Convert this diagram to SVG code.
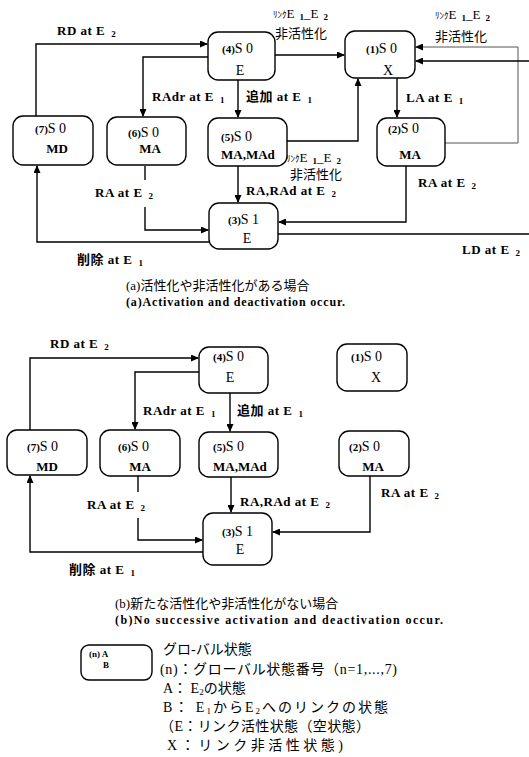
<svg xmlns="http://www.w3.org/2000/svg" width="529" height="757" viewBox="0 0 529 757">
<style>
text{font-family:"Liberation Serif","Noto Sans CJK JP",serif;fill:#000}
.box{fill:#fff;stroke:#000;stroke-width:1.4}
.num{font-size:11px;font-weight:bold}
.s{font-size:14px}
.b2{font-size:13px;font-weight:bold}
.r2{font-size:14px}
.lb{font-size:13px;font-weight:bold;letter-spacing:0.5px}
.jp{font-size:13px}
.sub{font-size:9px;font-weight:bold;letter-spacing:0}
.ln{fill:none;stroke:#000;stroke-width:1.4}
.thin{fill:none;stroke:#555;stroke-width:1}
.cap{font-size:13px}
.capE{font-size:12px;font-weight:bold}
.lg{font-size:14px}
</style>
<defs>
<marker id="ah" markerWidth="8" markerHeight="7" refX="7" refY="3.5" orient="auto" markerUnits="userSpaceOnUse">
<path d="M0,0 L8,3.5 L0,7 z" fill="#000"/>
</marker>
</defs>

<g id="connectors">
<!-- (a) -->
<path class="ln" d="M36,116 V44 H207" marker-end="url(#ah)"/>
<path class="ln" d="M208,57 H143 V116" marker-end="url(#ah)"/>
<path class="ln" d="M238,80 V117" marker-end="url(#ah)"/>
<path class="ln" d="M275,55 H344" marker-end="url(#ah)"/>
<path class="ln" d="M287,141 H358 V79" marker-end="url(#ah)"/>
<path class="ln" d="M397,78 V117" marker-end="url(#ah)"/>
<path class="thin" d="M445,143 H518 V47 H416" marker-end="url(#ah)"/>
<path class="ln" d="M529,61 H416" marker-end="url(#ah)"/>
<path class="ln" d="M406,166 V222 H279" marker-end="url(#ah)"/>
<path class="ln" d="M238,166 V202" marker-end="url(#ah)"/>
<path class="ln" d="M145,166 V180"/>
<path class="ln" d="M145,207 V230 H208" marker-end="url(#ah)"/>
<path class="ln" d="M209,242 H37 V166" marker-end="url(#ah)"/>
<path class="ln" d="M278,234 H529"/>
<!-- (b) -->
<path class="ln" d="M30,430 V358 H198" marker-end="url(#ah)"/>
<path class="ln" d="M199,372 H135 V429" marker-end="url(#ah)"/>
<path class="ln" d="M230,393 V431" marker-end="url(#ah)"/>
<path class="ln" d="M231,477 V512" marker-end="url(#ah)"/>
<path class="ln" d="M370,476 V532 H273" marker-end="url(#ah)"/>
<path class="ln" d="M138,476 V492"/>
<path class="ln" d="M138,518 V540 H202" marker-end="url(#ah)"/>
<path class="ln" d="M203,552 H30 V476" marker-end="url(#ah)"/>
</g>

<g id="labels">
<text class="lb" x="57" y="35">RD at E<tspan class="sub" dx="6" dy="2">2</tspan></text>
<text class="lb" x="152" y="101">RAdr at E<tspan class="sub" dx="6" dy="2">1</tspan></text>
<text class="lb" x="246" y="101">追加 at E<tspan class="sub" dx="6" dy="2">1</tspan></text>
<text class="jp" x="273" y="18"><tspan font-size="9">ﾘﾝｸ</tspan>E<tspan class="sub" dx="5" dy="2">1</tspan><tspan dy="-2">_E</tspan><tspan class="sub" dx="5" dy="2">2</tspan></text>
<text class="jp" x="275" y="38">非活性化</text>
<text class="jp" x="435" y="19"><tspan font-size="9">ﾘﾝｸ</tspan>E<tspan class="sub" dx="5" dy="2">1</tspan><tspan dy="-2">_E</tspan><tspan class="sub" dx="5" dy="2">2</tspan></text>
<text class="jp" x="435" y="41">非活性化</text>
<text class="lb" x="406" y="102">LA at E<tspan class="sub" dx="6" dy="2">1</tspan></text>
<text class="jp" x="286" y="162"><tspan font-size="9">ﾘﾝｸ</tspan>E<tspan class="sub" dx="5" dy="2">1</tspan><tspan dy="-2">_E</tspan><tspan class="sub" dx="5" dy="2">2</tspan></text>
<text class="jp" x="290" y="179">非活性化</text>
<text class="lb" x="246" y="195">RA,RAd at E<tspan class="sub" dx="6" dy="2">2</tspan></text>
<text class="lb" x="418" y="187">RA at E<tspan class="sub" dx="6" dy="2">2</tspan></text>
<text class="lb" x="95" y="197">RA at E<tspan class="sub" dx="6" dy="2">2</tspan></text>
<text class="lb" x="77" y="264">削除 at E<tspan class="sub" dx="6" dy="2">1</tspan></text>
<text class="lb" x="462" y="254">LD at E<tspan class="sub" dx="6" dy="2">2</tspan></text>
<text class="cap" x="126" y="290">(a)活性化や非活性化がある場合</text>
<text class="capE" x="126" y="306" textLength="219" lengthAdjust="spacing">(a)Activation and deactivation occur.</text>

<text class="lb" x="50" y="348">RD at E<tspan class="sub" dx="6" dy="2">2</tspan></text>
<text class="lb" x="143" y="415">RAdr at E<tspan class="sub" dx="6" dy="2">1</tspan></text>
<text class="lb" x="237" y="415">追加 at E<tspan class="sub" dx="6" dy="2">1</tspan></text>
<text class="lb" x="87" y="509">RA at E<tspan class="sub" dx="6" dy="2">2</tspan></text>
<text class="lb" x="240" y="506">RA,RAd at E<tspan class="sub" dx="6" dy="2">2</tspan></text>
<text class="lb" x="381" y="497">RA at E<tspan class="sub" dx="6" dy="2">2</tspan></text>
<text class="lb" x="69" y="574">削除 at E<tspan class="sub" dx="6" dy="2">1</tspan></text>
<text class="cap" x="115" y="608">(b)新たな活性化や非活性化がない場合</text>
<text class="capE" x="115" y="624" textLength="328" lengthAdjust="spacing">(b)No successive activation and deactivation occur.</text>
</g>

<!-- (a) nodes -->
<g id="a4"><rect class="box" x="208" y="32" width="67" height="48" rx="10"/><text x="222" y="53"><tspan class="num">(4)</tspan><tspan class="s">S 0</tspan></text><text class="r2" x="240" y="75" text-anchor="middle">E</text></g>
<g id="a1"><rect class="box" x="345" y="31" width="70" height="47" rx="10"/><text x="366" y="53"><tspan class="num">(1)</tspan><tspan class="s">S 0</tspan></text><text class="r2" x="388" y="75" text-anchor="middle">X</text></g>
<g id="a7"><rect class="box" x="13" y="116" width="80" height="49" rx="10"/><text x="35" y="133"><tspan class="num">(7)</tspan><tspan class="s">S 0</tspan></text><text class="b2" x="57" y="153" text-anchor="middle">MD</text></g>
<g id="a6"><rect class="box" x="107" y="117" width="79" height="48" rx="10"/><text x="128" y="137"><tspan class="num">(6)</tspan><tspan class="s">S 0</tspan></text><text class="b2" x="150" y="153" text-anchor="middle">MA</text></g>
<g id="a5"><rect class="box" x="208" y="118" width="79" height="48" rx="10"/><text x="221" y="141"><tspan class="num">(5)</tspan><tspan class="s">S 0</tspan></text><text class="b2" x="221" y="159">MA,MAd</text></g>
<g id="a2"><rect class="box" x="377" y="118" width="68" height="48" rx="10"/><text x="388" y="133"><tspan class="num">(2)</tspan><tspan class="s">S 0</tspan></text><text class="b2" x="410" y="159" text-anchor="middle">MA</text></g>
<g id="a3"><rect class="box" x="209" y="203" width="69" height="46" rx="10"/><text x="228" y="224"><tspan class="num">(3)</tspan><tspan class="s">S 1</tspan></text><text class="r2" x="247" y="243" text-anchor="middle">E</text></g>

<!-- (b) nodes -->
<g id="b4"><rect class="box" x="199" y="347" width="69" height="46" rx="10"/><text x="213" y="361"><tspan class="num">(4)</tspan><tspan class="s">S 0</tspan></text><text class="r2" x="230" y="382" text-anchor="middle">E</text></g>
<g id="b1"><rect class="box" x="337" y="344" width="70" height="47" rx="10"/><text x="351" y="361"><tspan class="num">(1)</tspan><tspan class="s">S 0</tspan></text><text class="r2" x="376" y="382" text-anchor="middle">X</text></g>
<g id="b7"><rect class="box" x="7" y="430" width="80" height="45" rx="10"/><text x="27" y="451"><tspan class="num">(7)</tspan><tspan class="s">S 0</tspan></text><text class="b2" x="47" y="471" text-anchor="middle">MD</text></g>
<g id="b6"><rect class="box" x="100" y="430" width="80" height="46" rx="10"/><text x="118" y="451"><tspan class="num">(6)</tspan><tspan class="s">S 0</tspan></text><text class="b2" x="140" y="471" text-anchor="middle">MA</text></g>
<g id="b5"><rect class="box" x="199" y="432" width="79" height="45" rx="10"/><text x="213" y="451"><tspan class="num">(5)</tspan><tspan class="s">S 0</tspan></text><text class="b2" x="213" y="471">MA,MAd</text></g>
<g id="b2"><rect class="box" x="339" y="431" width="70" height="45" rx="10"/><text x="349" y="451"><tspan class="num">(2)</tspan><tspan class="s">S 0</tspan></text><text class="b2" x="373" y="471" text-anchor="middle">MA</text></g>
<g id="b3"><rect class="box" x="203" y="513" width="69" height="52" rx="10"/><text x="222" y="536"><tspan class="num">(3)</tspan><tspan class="s">S 1</tspan></text><text class="r2" x="240" y="554" text-anchor="middle">E</text></g>

<!-- legend -->
<g id="legend">
<rect class="box" x="81" y="645" width="71" height="35" rx="8"/>
<text x="89" y="657" font-size="9" font-weight="bold">(n) A</text>
<text x="103" y="668" font-size="9" font-weight="bold">B</text>
<text class="lg" x="163" y="654">グロ‐バル状態</text>
<text class="lg" x="160" y="674" textLength="237" lengthAdjust="spacing">(n)：グローバル状態番号（n=1,...,7)</text>
<text class="lg" x="163" y="693">A： E<tspan font-size="9" dy="2">2</tspan><tspan dy="-2">の状態</tspan></text>
<text class="lg" x="163" y="712" textLength="225" lengthAdjust="spacing">B： E<tspan font-size="9" dy="2">1</tspan><tspan dy="-2">からE</tspan><tspan font-size="9" dy="2">2</tspan><tspan dy="-2">へのリンクの状態</tspan></text>
<text class="lg" x="160" y="731" textLength="210" lengthAdjust="spacing">（E：リンク活性状態（空状態）</text>
<text class="lg" x="167" y="750" textLength="176" lengthAdjust="spacing">X：リンク非活性状態)</text>
</g>
</svg>
